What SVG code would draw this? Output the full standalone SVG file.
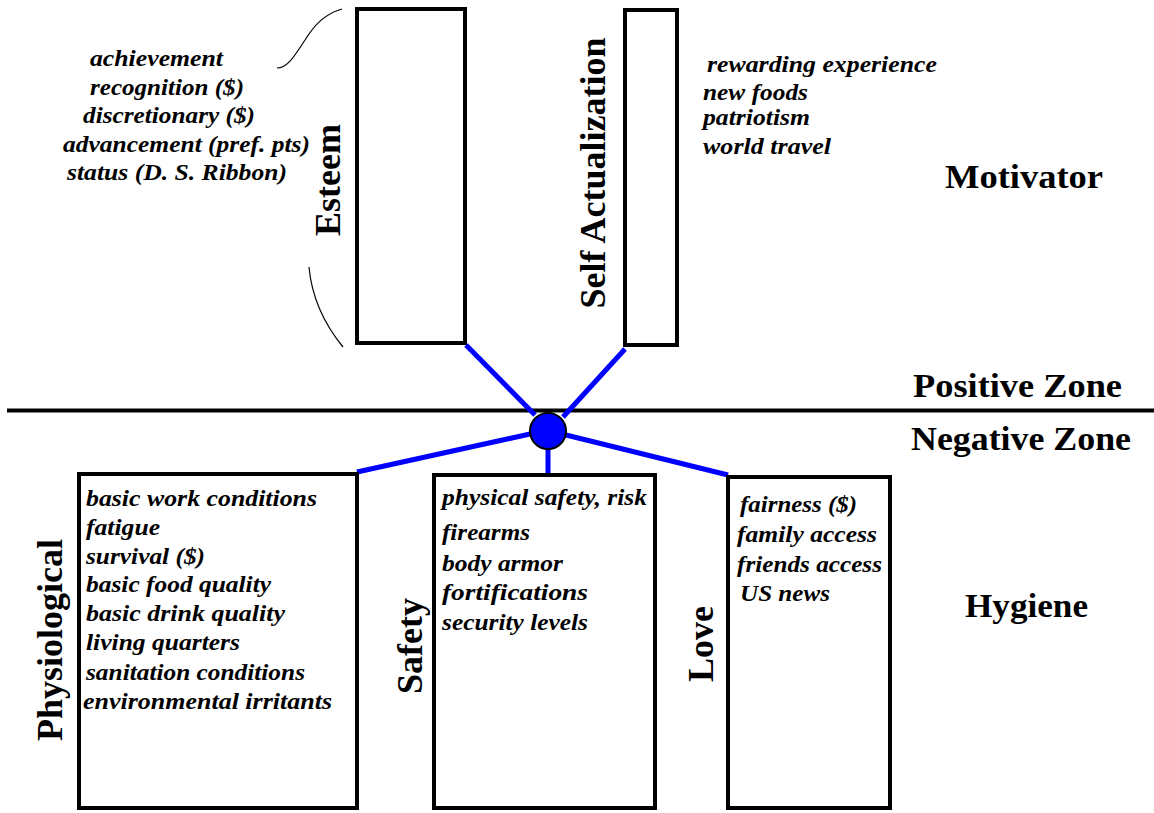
<svg xmlns="http://www.w3.org/2000/svg" width="1154" height="813" viewBox="0 0 1154 813">
<style>
.box{fill:#fff;stroke:#000;stroke-width:4}
.item{font-family:"Liberation Serif",serif;font-weight:bold;font-style:italic;font-size:24px;fill:#000}
.lbl{font-family:"Liberation Serif",serif;font-weight:bold;font-size:36px;fill:#000}
.zone{font-family:"Liberation Serif",serif;font-weight:bold;font-size:34px;fill:#000}
.conn{stroke:#0000ff;stroke-width:5;fill:none}
.brace{stroke:#000;stroke-width:1.2;fill:none}
</style>
<rect width="1154" height="813" fill="#fff"/>
<line x1="7" y1="410.5" x2="1154" y2="410.5" stroke="#000" stroke-width="4"/>
<g id="connectors">
<line class="conn" x1="466" y1="345" x2="535" y2="415"/>
<line class="conn" x1="625" y1="349" x2="563" y2="417"/>
<line class="conn" x1="530" y1="434" x2="357" y2="472"/>
<line class="conn" x1="548" y1="445" x2="548" y2="473"/>
<line class="conn" x1="566" y1="435" x2="728" y2="475"/>
</g>
<g id="hub">
<circle cx="548" cy="431" r="18" fill="#0000ff" stroke="#000" stroke-width="2"/>
</g>
<g id="esteem">
<rect class="box" x="357" y="9" width="108" height="334"/>
<text class="lbl" text-anchor="middle" transform="translate(340,180) rotate(-90)">Esteem</text>
<path class="brace" d="M277,68 C288,68 295,55 305,40 C315,24 325,14 342,9"/>
<path class="brace" d="M309,267 C312,300 325,325 343,347"/>
<text class="item" x="90" y="66" textLength="133" lengthAdjust="spacingAndGlyphs">achievement</text>
<text class="item" x="90" y="95" textLength="154" lengthAdjust="spacingAndGlyphs">recognition ($)</text>
<text class="item" x="83" y="123" textLength="172" lengthAdjust="spacingAndGlyphs">discretionary ($)</text>
<text class="item" x="63" y="152" textLength="247" lengthAdjust="spacingAndGlyphs">advancement (pref. pts)</text>
<text class="item" x="67" y="180" textLength="220" lengthAdjust="spacingAndGlyphs">status (D. S. Ribbon)</text>
</g>
<g id="self-actualization">
<rect class="box" x="625" y="10" width="52" height="335"/>
<text class="lbl" text-anchor="middle" transform="translate(605,173) rotate(-90)">Self Actualization</text>
<text class="item" x="707" y="72" textLength="230" lengthAdjust="spacingAndGlyphs">rewarding experience</text>
<text class="item" x="703" y="100" textLength="105" lengthAdjust="spacingAndGlyphs">new foods</text>
<text class="item" x="703" y="125" textLength="107" lengthAdjust="spacingAndGlyphs">patriotism</text>
<text class="item" x="703" y="154" textLength="128" lengthAdjust="spacingAndGlyphs">world travel</text>
</g>
<g id="physiological">
<rect class="box" x="79" y="474" width="278" height="334"/>
<text class="lbl" text-anchor="middle" transform="translate(62,640) rotate(-90)">Physiological</text>
<text class="item" x="86" y="506" textLength="231" lengthAdjust="spacingAndGlyphs">basic work conditions</text>
<text class="item" x="86" y="535" textLength="74" lengthAdjust="spacingAndGlyphs">fatigue</text>
<text class="item" x="86" y="564" textLength="119" lengthAdjust="spacingAndGlyphs">survival ($)</text>
<text class="item" x="86" y="592" textLength="185" lengthAdjust="spacingAndGlyphs">basic food quality</text>
<text class="item" x="86" y="621" textLength="199" lengthAdjust="spacingAndGlyphs">basic drink quality</text>
<text class="item" x="86" y="650" textLength="154" lengthAdjust="spacingAndGlyphs">living quarters</text>
<text class="item" x="86" y="680" textLength="219" lengthAdjust="spacingAndGlyphs">sanitation conditions</text>
<text class="item" x="83" y="709" textLength="249" lengthAdjust="spacingAndGlyphs">environmental irritants</text>
</g>
<g id="safety">
<rect class="box" x="434" y="475" width="221" height="333"/>
<text class="lbl" text-anchor="middle" transform="translate(422,646) rotate(-90)">Safety</text>
<text class="item" x="442" y="505" textLength="205" lengthAdjust="spacingAndGlyphs">physical safety, risk</text>
<text class="item" x="442" y="540" textLength="88" lengthAdjust="spacingAndGlyphs">firearms</text>
<text class="item" x="442" y="571" textLength="121" lengthAdjust="spacingAndGlyphs">body armor</text>
<text class="item" x="442" y="600" textLength="146" lengthAdjust="spacingAndGlyphs">fortifications</text>
<text class="item" x="442" y="630" textLength="146" lengthAdjust="spacingAndGlyphs">security levels</text>
</g>
<g id="love">
<rect class="box" x="728" y="477" width="162" height="331"/>
<text class="lbl" text-anchor="middle" transform="translate(713,644) rotate(-90)">Love</text>
<text class="item" x="740" y="512" textLength="117" lengthAdjust="spacingAndGlyphs">fairness ($)</text>
<text class="item" x="737" y="542" textLength="140" lengthAdjust="spacingAndGlyphs">family access</text>
<text class="item" x="737" y="572" textLength="145" lengthAdjust="spacingAndGlyphs">friends access</text>
<text class="item" x="740" y="601" textLength="90" lengthAdjust="spacingAndGlyphs">US news</text>
</g>
<g id="zones">
<text class="zone" x="945" y="188" textLength="158" lengthAdjust="spacingAndGlyphs">Motivator</text>
<text class="zone" x="913" y="397" textLength="209" lengthAdjust="spacingAndGlyphs">Positive Zone</text>
<text class="zone" x="911" y="450" textLength="220" lengthAdjust="spacingAndGlyphs">Negative Zone</text>
<text class="zone" x="965" y="617" textLength="123" lengthAdjust="spacingAndGlyphs">Hygiene</text>
</g>
</svg>
